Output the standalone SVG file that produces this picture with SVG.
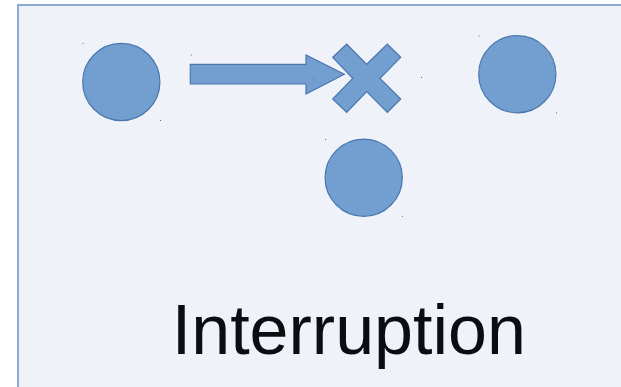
<svg xmlns="http://www.w3.org/2000/svg" width="621" height="387" viewBox="0 0 621 387">
  <style>
    .shape { fill: #729fcf; stroke: #4a76ad; stroke-width: 1.2; }
    .handle { fill: #4a6a9a; }
    .label { font-family: "Liberation Sans", Arial, sans-serif; font-size: 70px; fill: #0b0d10; }
  </style>
  <rect x="0" y="0" width="621" height="387" fill="#ffffff"/>
  <!-- panel -->
  <rect x="18" y="5" width="620" height="400" fill="#eff3f9" stroke="#8eaad2" stroke-width="2"/>

  <g id="node-left">
    <circle class="shape" cx="121.3" cy="82" r="38.6"/>
    <rect class="handle" x="82.5" y="43" width="1" height="1"/>
    <rect class="handle" x="160" y="120" width="1" height="1"/>
  </g>

  <g id="node-right">
    <circle class="shape" cx="517.3" cy="74.2" r="38.6"/>
    <rect class="handle" x="478.5" y="35.5" width="1" height="1"/>
    <rect class="handle" x="556" y="112.5" width="1" height="1"/>
  </g>

  <g id="node-bottom">
    <circle class="shape" cx="363.7" cy="177.7" r="38.6"/>
    <rect class="handle" x="325" y="139" width="1" height="1"/>
    <rect class="handle" x="402" y="215.8" width="1" height="1"/>
  </g>

  <g id="connectors">
    <path class="shape" d="M190.3,64.3 H306 V55 L344.3,74.3 L306,94 V84 H190.3 Z"/>
    <rect class="handle" x="190.8" y="54.5" width="1" height="1"/>
    <rect class="handle" x="313" y="78" width="1" height="1"/>
  </g>

  <g id="node-break">
    <path class="shape" d="M332.7,57.3 L346.7,44 L366.7,64.3 L387.3,44 L400.7,57.3 L380,78.3 L400.7,99 L387.3,112.3 L366.7,91.7 L346.7,112.3 L332.7,99 L352.7,78.3 Z"/>
    <rect class="handle" x="421" y="77" width="1" height="1"/>
  </g>

  <text class="label" x="171.8" y="354.3">Interruption</text>
</svg>
